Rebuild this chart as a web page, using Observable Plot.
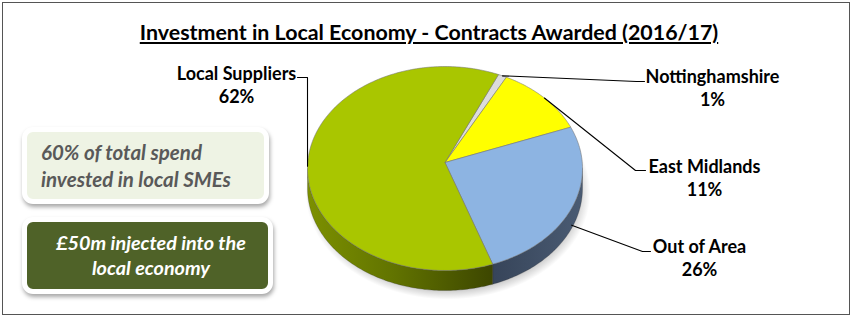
<!DOCTYPE html>
<html>
<head>
<meta charset="utf-8">
<script src="https://cdn.jsdelivr.net/npm/d3@7"></script>
<script src="https://cdn.jsdelivr.net/npm/@observablehq/plot@0.6"></script>
<style>
  body { margin: 0; background: #fff; }
  #wrap { position: relative; width: 852px; height: 318px; overflow: hidden; font-family: Lato, "Open Sans", sans-serif; }
  #frame { position: absolute; left: 2px; top: 2px; width: 848px; height: 313px; border: 1.5px solid #555; box-sizing: border-box; }
  #title { position: absolute; left: 0; top: 19px; width: 858px; text-align: center; font-weight: 700; font-size: 21.4px; line-height: 26px; text-decoration: underline; text-underline-offset: 2px; color: #000; }
  .box { position: absolute; box-sizing: border-box; border: 5px solid #fff; border-radius: 11px; box-shadow: 1px 3px 4px rgba(0,0,0,0.35); font-style: italic; font-weight: 700; }
  #box1 { left: 22px; top: 127px; width: 247px; height: 77px; background: #eef3e4; color: #595959; padding: 7px 0 0 14px; line-height: 27px; font-size: 20.5px; white-space: nowrap; }
  #box2 { left: 22px; top: 217px; width: 251px; height: 77px; background: #4f6228; color: #fff; padding: 8px 0 0 7px; line-height: 25px; text-align: center; font-size: 19.8px; white-space: nowrap; }
  #chart { position: absolute; left: 0; top: 0; }
</style>
</head>
<body>
<div id="wrap">
  <div id="frame"></div>
  <div id="chart"></div>
  <div id="title"></div>
  <div class="box" id="box1"></div>
  <div class="box" id="box2"></div>
</div>
<script>
// ---- data ----
const titleText = "Investment in Local Economy - Contracts Awarded (2016/17)";
const categories = ["Nottinghamshire", "East Midlands", "Out of Area", "Local Suppliers"];
const shares = [1, 11, 26, 62];
const shareLabels = ["1%", "11%", "26%", "62%"];
const callout1 = ["60% of total spend", "invested in local SMEs"];
const callout2 = ["£50m injected into the", "local economy"];

// ---- styles / layout ----
const topColors = ["#dcdcdc", "#ffff00", "#8db4e2", "#a9c600"];
const sideColors = ["#9a9a9a", "#a3a300", "url(#sideBlue)", "url(#sideGreen)"];
const W = 852, H = 318;
const geo = { cx: 444.5, cy: 168, rx: 137.5, ry: 102, depth: 20, apexDy: -6, startDeg: 22.9 };
const labelLayout = {
  "Nottinghamshire": { x: 712, y: 87, elbow: [636, 81], end: [644, 81], dz: 0 },
  "East Midlands":   { x: 704, y: 176.5, elbow: [635, 170], end: [645, 170], dz: 0 },
  "Out of Area":     { x: 699, y: 256.5, elbow: [642, 251], end: [650, 251], dz: 17 },
  "Local Suppliers": { x: 236, y: 84, elbow: [307, 77], end: [297, 77], dz: 0 }
};

document.getElementById("title").textContent = titleText;
document.getElementById("box1").innerHTML = callout1.map(t => `<div>${t}</div>`).join("");
document.getElementById("box2").innerHTML = callout2.map(t => `<div>${t}</div>`).join("");

const rows = categories.map((c, i) => ({ category: c, share: shares[i], label: shareLabels[i], top: topColors[i], side: sideColors[i] }));
const start = geo.startDeg * Math.PI / 180;
const arcs = d3.pie().sort(null).value(d => d.share).startAngle(start).endAngle(start + 2 * Math.PI)(rows);

const pt = (a, dz = 0) => ({ x: geo.cx + geo.rx * Math.sin(a), y: geo.cy - geo.ry * Math.cos(a) + dz });
function arcPts(a0, a1, dz) {
  const n = Math.max(2, Math.ceil(Math.abs(a1 - a0) / (Math.PI / 180)));
  const out = [];
  for (let k = 0; k <= n; k++) out.push(pt(a0 + (a1 - a0) * k / n, dz));
  return out;
}
const apex = { x: geo.cx, y: geo.cy + geo.apexDy };

const tops = arcs.map(a => ({ d: a.data, pts: [apex, ...arcPts(a.startAngle, a.endAngle, 0), apex] }));
const sides = [];
arcs.forEach(a => {
  for (const off of [0, 2 * Math.PI]) {
    const lo = Math.max(a.startAngle, Math.PI / 2 + off), hi = Math.min(a.endAngle, 1.5 * Math.PI + off);
    if (hi > lo) {
      const p = [...arcPts(lo, hi, 0), ...arcPts(hi, lo, geo.depth)];
      p.push(p[0]);
      sides.push({ d: a.data, pts: p });
    }
  }
});
const leaders = arcs.map(a => {
  const L = labelLayout[a.data.category];
  const s = pt((a.startAngle + a.endAngle) / 2, L.dz);
  return [s, { x: L.elbow[0], y: L.elbow[1] }, { x: L.end[0], y: L.end[1] }].map(p => ({ ...p, category: a.data.category }));
}).flat();
const labelRows = rows.map(r => ({ ...r, x: labelLayout[r.category].x, y: labelLayout[r.category].y, text: r.category + "\n" + r.label }));

// shadow ellipse
const shadowPts = [];
for (let k = 0; k <= 360; k++) {
  const a = k * Math.PI / 180;
  shadowPts.push({ x: geo.cx + 3 + (geo.rx + 5) * Math.sin(a), y: geo.cy + geo.depth + 4 - (geo.ry + 5) * Math.cos(a) });
}

const chart = Plot.plot({
  width: W, height: H,
  margin: 0,
  x: { domain: [0, W], range: [0, W], axis: null },
  y: { domain: [0, H], range: [0, H], axis: null },
  style: { background: "transparent", overflow: "visible" },
  marks: [
    Plot.line(shadowPts, { x: "x", y: "y", fill: "url(#pieShadow)", stroke: "none" }),
    ...sides.map(s => Plot.line(s.pts, { x: "x", y: "y", fill: s.d.side, stroke: "none" })),
    ...sides.map(s => Plot.line(s.pts, { x: "x", y: "y", fill: "none", stroke: "#2b2b2b", strokeWidth: 0.5, strokeOpacity: 0.5 })),
    ...tops.map(t => Plot.line(t.pts, { x: "x", y: "y", fill: t.d.top, stroke: "#777", strokeWidth: 0.7, strokeOpacity: 0.8 })),
    Plot.line(leaders, { x: "x", y: "y", z: "category", stroke: "#000", strokeWidth: 1.1 }),
    Plot.text(labelRows, { x: "x", y: "y", text: "text", fontWeight: 700, fontSize: 18, fontFamily: "Lato", lineHeight: 1.27, fill: "#000" })
  ]
});
document.getElementById("chart").appendChild(chart);

// gradients
const svg = d3.select(chart);
const defs = svg.insert("defs", ":first-child");
const g1 = defs.append("linearGradient").attr("id", "sideGreen").attr("gradientUnits", "userSpaceOnUse")
  .attr("x1", geo.cx - geo.rx).attr("x2", geo.cx + 50).attr("y1", 0).attr("y2", 0);
[[0, "#7c9000"], [0.45, "#627400"], [1, "#3c4500"]].forEach(([o, c]) => g1.append("stop").attr("offset", o).attr("stop-color", c));
const g2 = defs.append("linearGradient").attr("id", "sideBlue").attr("gradientUnits", "userSpaceOnUse")
  .attr("x1", geo.cx + 50).attr("x2", geo.cx + geo.rx).attr("y1", 0).attr("y2", 0);
[[0, "#37455a"], [1, "#4a5b73"]].forEach(([o, c]) => g2.append("stop").attr("offset", o).attr("stop-color", c));
const g3 = defs.append("radialGradient").attr("id", "pieShadow");
[[0.8, "rgba(0,0,0,0.35)"], [0.92, "rgba(0,0,0,0.18)"], [1, "rgba(0,0,0,0)"]].forEach(([o, c]) => g3.append("stop").attr("offset", o).attr("stop-color", c));
</script>
</body>
</html>
